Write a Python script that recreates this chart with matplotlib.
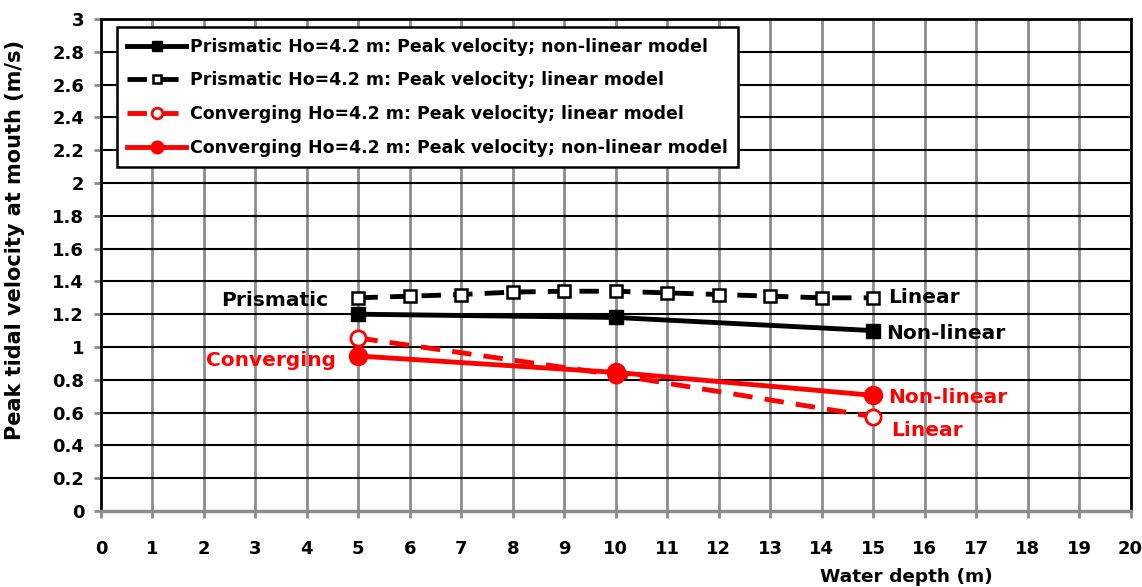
import matplotlib
matplotlib.use("Agg")
import matplotlib.pyplot as plt
import numpy as np

plt.rcParams['font.family'] = ['DejaVu Sans']
plt.rcParams['font.weight'] = 'bold'

# Water depth (m)
depth_fine = [5, 6, 7, 8, 9, 10, 11, 12, 13, 14, 15]
depth_coarse = [5, 10, 15]

# Peak tidal velocity at the mouth (m/s)
prism_nonlinear = [1.20, 1.18, 1.10]
prism_linear = [1.30, 1.31, 1.32, 1.335, 1.34, 1.34, 1.33, 1.32, 1.31, 1.30, 1.30]
conv_linear = [1.055, 0.83, 0.575]
conv_nonlinear = [0.945, 0.845, 0.705]

labels = [
    "Prismatic Ho=4.2 m: Peak velocity; non-linear model",
    "Prismatic Ho=4.2 m: Peak velocity; linear model",
    "Converging Ho=4.2 m: Peak velocity; linear model",
    "Converging Ho=4.2 m: Peak velocity; non-linear model",
]

fig = plt.figure(figsize=(11.42, 5.87), dpi=100)
ax = fig.add_axes([0.0884, 0.1295, 0.9016, 0.8381])

red = '#ff0000'
ax.plot(depth_coarse, prism_nonlinear, color='black', lw=3.5, marker='s',
        ms=10, mfc='black', mec='black', label=labels[0], zorder=4)
ax.plot(depth_fine, prism_linear, color='black', lw=3.5, ls=(0, (4, 2.5)),
        marker='s', ms=9, mfc='white', mec='black', mew=1.8,
        label=labels[1], zorder=4)
ax.plot(depth_coarse, conv_linear, color=red, lw=3.5, ls=(0, (4, 2.5)),
        marker='o', ms=11, mfc='white', mec=red, mew=2,
        label=labels[2], zorder=4)
ax.plot(depth_coarse, conv_nonlinear, color=red, lw=3.5, marker='o',
        ms=13, mfc=red, mec=red, label=labels[3], zorder=5)

ax.set_xlim(0, 20)
ax.set_ylim(0, 3)
ax.set_xticks(np.arange(0, 21, 1))
yt = np.round(np.arange(0, 3.01, 0.2), 1)
ax.set_yticks(yt)
ax.set_yticklabels([f"{v:g}" for v in yt])

# grid: gray verticals, black horizontals
for x in range(1, 20):
    ax.axvline(x, color='#8c8c8c', lw=2, zorder=1)
for y in np.arange(0.2, 3.0, 0.2):
    ax.axhline(y, color='black', lw=1.5, zorder=1)

for s in ax.spines.values():
    s.set_color('black')
    s.set_linewidth(2)
ax.spines['bottom'].set_color('#8c8c8c')
ax.spines['bottom'].set_linewidth(2.5)

ax.tick_params(axis='both', direction='out', length=5, width=2,
               color='#8c8c8c', labelsize=13)
ax.tick_params(axis='x', pad=16)
ax.tick_params(axis='y', pad=7)
for lab in ax.get_xticklabels() + ax.get_yticklabels():
    lab.set_fontweight('bold')

ax.set_xlabel("Water depth (m)", fontsize=13.3, fontweight='bold')
ax.xaxis.set_label_coords(0.782, -0.115)
ax.set_ylabel("Peak tidal velocity at mouth (m/s)", fontsize=15,
              fontweight='bold')
ax.yaxis.set_label_coords(-0.074, 0.55)

# series annotations
ax.text(4.42, 1.285, "Prismatic", fontsize=14.5, fontweight='bold',
        color='black', ha='right', va='center')
ax.text(4.57, 0.92, "Converging", fontsize=14.5, fontweight='bold',
        color=red, ha='right', va='center')
ax.text(15.3, 1.30, "Linear", fontsize=14.5, fontweight='bold',
        color='black', ha='left', va='center')
ax.text(15.25, 1.08, "Non-linear", fontsize=14.5, fontweight='bold',
        color='black', ha='left', va='center')
ax.text(15.3, 0.695, "Non-linear", fontsize=14.5, fontweight='bold',
        color=red, ha='left', va='center')
ax.text(15.35, 0.49, "Linear", fontsize=14.5, fontweight='bold',
        color=red, ha='left', va='center')

leg = ax.legend(loc='upper left', bbox_to_anchor=(0.0155, 0.983),
                fontsize=12.5, frameon=True, fancybox=False, framealpha=1,
                edgecolor='black', handlelength=3.4, handletextpad=0.2,
                labelspacing=0.9, borderpad=0.6, borderaxespad=0.0,
                markerscale=0.7)
leg.get_frame().set_linewidth(1.8)
leg.set_zorder(10)
for t in leg.get_texts():
    t.set_fontweight('bold')

fig.savefig("out.png", dpi=100, facecolor='white')
